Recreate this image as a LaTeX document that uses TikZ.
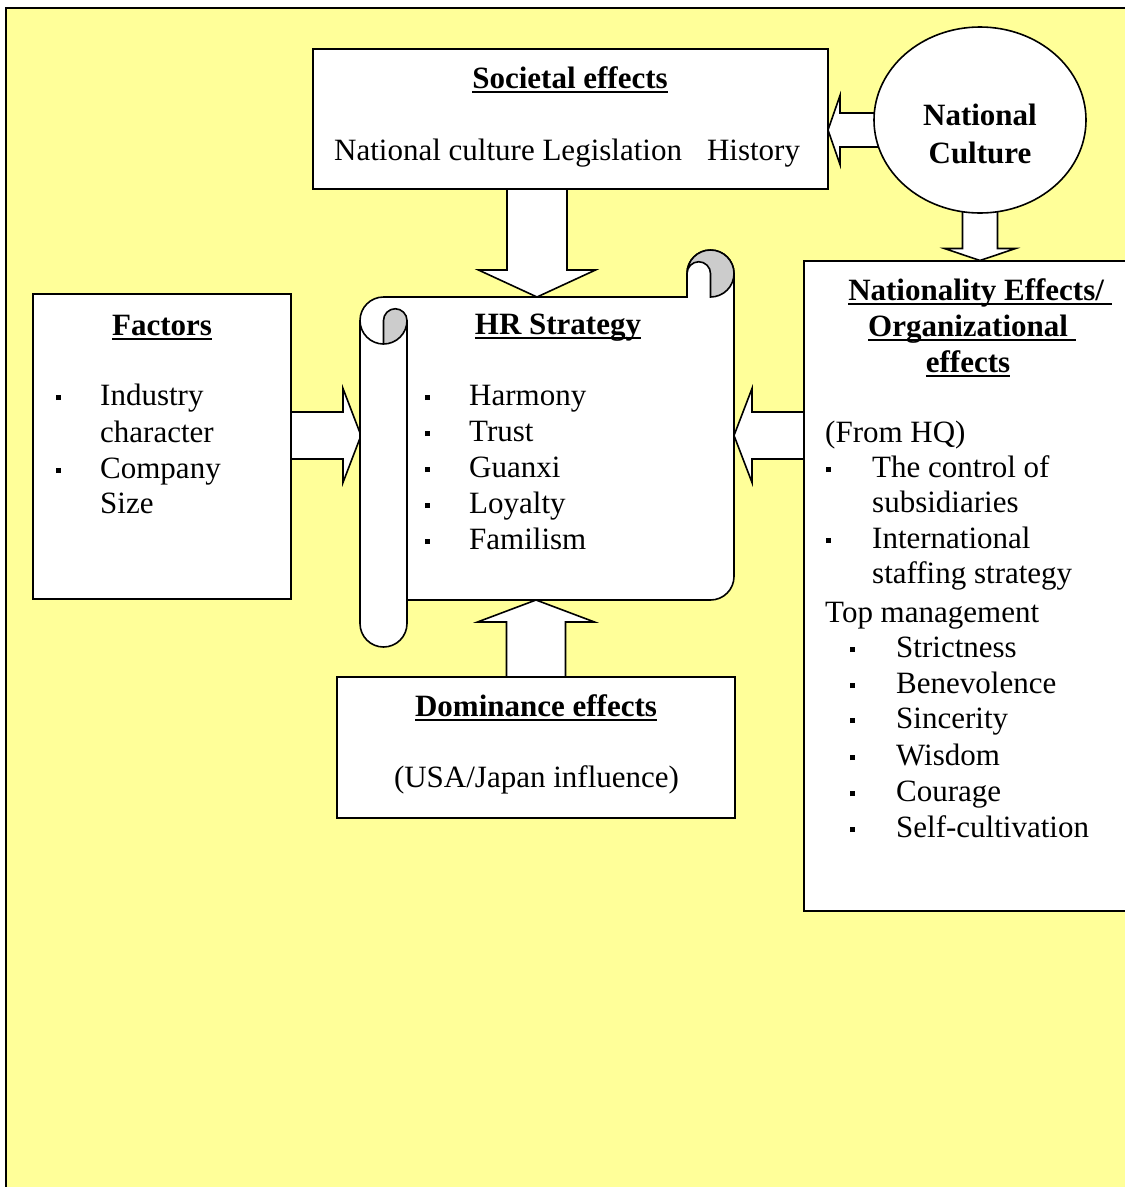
\documentclass[tikz,border=0pt]{standalone}
\usepackage{fontspec}
\setmainfont{Liberation Serif}
\usetikzlibrary{calc,shapes.geometric}
\definecolor{bgy}{RGB}{255,255,153}
\definecolor{curl}{RGB}{204,204,204}
\newcommand\myul[1]{\setbox0\hbox{#1}\rlap{\rule[-4.8pt]{\wd0}{2.2pt}}\box0}
\newcommand\sqb{\rule[5pt]{5pt}{5pt}}
\newcommand\blockarrow[5]{%
  \coordinate (hb) at ($(#2)!#5!(#1)$);
  \filldraw[blk] ($(#1)!#3!90:(#2)$) -- ($(hb)!#3!90:(#2)$) -- ($(hb)!#4!90:(#2)$) -- (#2)
     -- ($(hb)!#4!-90:(#2)$) -- ($(hb)!#3!-90:(#2)$) -- ($(#1)!#3!-90:(#2)$) -- cycle;}
\begin{document}
\begin{tikzpicture}[x=1pt,y=1pt,
  box/.style={draw, fill=white, line width=1.6pt, rectangle, inner sep=0},
  blk/.style={draw, fill=white, line width=1.6pt, line join=miter},
  txt/.style={anchor=base west, inner sep=0, font=\fontsize{31}{36}\selectfont},
  ctxt/.style={anchor=base, inner sep=0, font=\fontsize{31}{36}\selectfont},
  hd/.style={anchor=base, inner sep=0, font=\fontsize{31}{36}\selectfont\bfseries},
  bul/.style={anchor=base west, inner sep=0}]
\useasboundingbox (0,0) rectangle (1125,-1187);
\clip (0,0) rectangle (1125,-1187);
% background
\fill[bgy] (6,-8) rectangle (1135,-1195);
\draw[line width=2.6pt] (6,-1195) -- (6,-8) -- (1135,-8);
% boxes
\node[box, minimum width=515pt, minimum height=140pt] (soc) at (570.5,-119) {};
\node[box, minimum width=258pt, minimum height=305pt] (fac) at (162,-446.5) {};
\node[box, minimum width=328pt, minimum height=650pt] (nat) at (968,-586) {};
\node[box, minimum width=398pt, minimum height=141pt] (dom) at (536,-747.5) {};
% arrow end points
\coordinate (a1s) at (537,-189);   \coordinate (a1e) at (537,-297);
\coordinate (a2s) at (536,-677);   \coordinate (a2e) at (536,-600);
\coordinate (a3s) at (291,-435.5); \coordinate (a3e) at (361,-435.5);
\coordinate (a4s) at (804,-435.5); \coordinate (a4e) at (734,-435.5);
\coordinate (a5s) at (895,-130);   \coordinate (a5e) at (828,-130);
\coordinate (a6s) at (980,-195);   \coordinate (a6e) at (980,-260.5);
\blockarrow{a1s}{a1e}{30pt}{58.5pt}{27pt}
\blockarrow{a2s}{a2e}{29.5pt}{58.5pt}{22pt}
\blockarrow{a3s}{a3e}{23.5pt}{47pt}{18pt}
\blockarrow{a4s}{a4e}{23.5pt}{47pt}{18pt}
\blockarrow{a5s}{a5e}{17pt}{34.5pt}{12pt}
\blockarrow{a6s}{a6e}{17.5pt}{35.5pt}{12pt}
% scroll
\begin{scope}[line width=1.6pt]
\filldraw[fill=white] (360,-320.5) -- (360,-623.5) arc[start angle=180,end angle=360,radius=23.5]
  -- (407,-600) -- (710.5,-600) arc[start angle=270,end angle=360,radius=23.5]
  -- (734,-273.5) arc[start angle=0,end angle=180,radius=23.5]
  -- (687,-297) -- (383.5,-297) arc[start angle=90,end angle=180,radius=23.5] -- cycle;
\filldraw[fill=curl] (383.5,-320.5) arc[start angle=180,end angle=0,radius=11.75]
  arc[start angle=0,end angle=-90,radius=23.5] -- cycle;
\draw (360,-320.5) arc[start angle=180,end angle=270,radius=23.5];
\draw (407,-320.5) -- (407,-600);
\filldraw[fill=curl] (687,-273.5) arc[start angle=180,end angle=0,radius=23.5]
  arc[start angle=0,end angle=-90,radius=23.5] -- (710.5,-273.5)
  arc[start angle=0,end angle=180,radius=11.75] -- cycle;
\end{scope}
% national culture
\node[draw, fill=white, ellipse, line width=1.6pt, minimum width=212pt, minimum height=186pt, inner sep=0] (nc) at (980,-120) {};
\node[hd] (nc1) at (980,-125) {National};
\node[hd] (nc2) at (980,-163) {Culture};
% societal
\node[hd] (soct) at (570,-88) {\myul{Societal effects}};
\node[txt] (socl) at (334,-160) {National culture Legislation\hspace{25pt}History};
% HR strategy
\node[hd] (hrt) at (558,-334) {\myul{HR Strategy}};
\foreach \t/\yy [count=\i] in {Harmony/405,Trust/441,Guanxi/477,Loyalty/513,Familism/549}{
  \node[bul] (hb\i) at (425,-\yy) {\sqb};
  \node[txt] (ht\i) at (469,-\yy) {\t};}
% factors
\node[hd] (fact) at (162,-335) {\myul{Factors}};
\node[bul] (fb1) at (56,-405) {\sqb};
\node[txt] (ft1) at (100,-405) {Industry};
\node[txt] (ft2) at (100,-442) {character};
\node[bul] (fb2) at (56,-478) {\sqb};
\node[txt] (ft3) at (100,-478) {Company};
\node[txt] (ft4) at (100,-513) {Size};
% dominance
\node[hd] (domt) at (536,-716) {\myul{Dominance effects}};
\node[ctxt] (doml) at (536.5,-787) {(USA/Japan influence)};
% nationality
\node[hd] (nt1) at (980,-300) {\myul{Nationality Effects/\ }};
\node[hd] (nt2) at (972,-336) {\myul{Organizational\ }};
\node[hd] (nt3) at (968,-372) {\myul{effects}};
\node[txt] (nhq) at (825,-442) {(From HQ)};
\node[bul] (nb1) at (826,-477) {\sqb};
\node[txt] (nl1) at (872,-477) {The control of};
\node[txt] (nl2) at (872,-512) {subsidiaries};
\node[bul] (nb2) at (826,-548) {\sqb};
\node[txt] (nl3) at (872,-548) {International};
\node[txt] (nl4) at (872,-583) {staffing strategy};
\node[txt] (ntm) at (825,-622) {Top management};
\foreach \t/\yy [count=\i] in {Strictness/657,Benevolence/693,Sincerity/728,Wisdom/765,Courage/801,Self-cultivation/837}{
  \node[bul] (tb\i) at (850,-\yy) {\sqb};
  \node[txt] (tt\i) at (896,-\yy) {\t};}
\end{tikzpicture}
\end{document}
